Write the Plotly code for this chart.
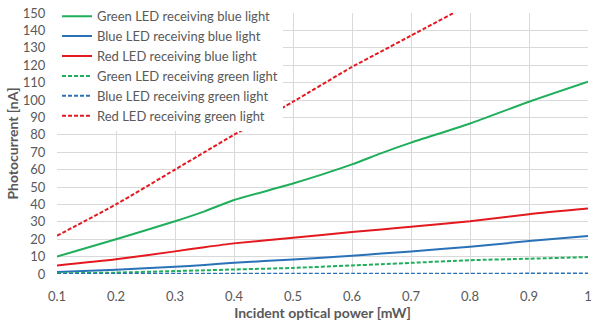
import plotly.graph_objects as go

power_mw = [0.1, 0.2, 0.3, 0.35, 0.4, 0.5, 0.6, 0.65, 0.7, 0.8, 0.9, 1.0]

green_blue = [10, 20, 30.3, 36, 42.5, 52, 63, 69.5, 75.5, 86.5, 99, 110.5]
blue_blue = [1.2, 2.5, 4.1, 5.2, 6.4, 8.4, 10.5, 11.8, 13, 15.7, 18.9, 21.9]
red_blue = [4.9, 8.5, 13, 15.4, 17.6, 20.8, 24.1, 25.6, 27.1, 30.3, 34.4, 37.6]
green_green = [0.4, 0.8, 1.7, 2.1, 2.6, 3.5, 4.9, 5.6, 6.4, 7.9, 8.8, 9.7]
blue_green = [0.05, 0.07, 0.1, 0.11, 0.12, 0.14, 0.16, 0.17, 0.18, 0.2, 0.22, 0.24]
red_green = [22, 40, 60, 70, 80, 99, 119, 128, 137, 155, 173, 191]

series_names = [
    "Green LED receiving blue light",
    "Blue LED receiving blue light",
    "Red LED receiving blue light",
    "Green LED receiving green light",
    "Blue LED receiving green light",
    "Red LED receiving green light",
]
series_values = [green_blue, blue_blue, red_blue, green_green, blue_green, red_green]
series_colors = ["#1fae5b", "#2a72b8", "#e3191f", "#1fae5b", "#2a72b8", "#e3191f"]
series_dash = ["solid", "solid", "solid", "4px,2px", "4px,2px", "4px,2px"]

x_ticks = [0.1, 0.2, 0.3, 0.4, 0.5, 0.6, 0.7, 0.8, 0.9, 1.0]
x_ticklabels = ["0.1", "0.2", "0.3", "0.4", "0.5", "0.6", "0.7", "0.8", "0.9", "1"]
y_ticks = list(range(0, 151, 10))

fig = go.Figure()
for name, vals, col, dash in zip(series_names, series_values, series_colors, series_dash):
    fig.add_trace(go.Scatter(
        x=power_mw, y=vals, name=name, mode="lines",
        line=dict(color=col, width=2, dash=dash, shape="spline", smoothing=0.6),
    ))

font_family = "Lato, 'Open Sans', sans-serif"
fig.update_layout(
    width=593, height=331,
    margin=dict(l=57, r=1, t=7, b=57),
    paper_bgcolor="white", plot_bgcolor="white",
    font=dict(family=font_family, size=13, color="#595959"),
    showlegend=True,
    legend=dict(
        x=0.0, y=1.045, xanchor="left", yanchor="top",
        bgcolor="white", borderwidth=0,
        font=dict(size=13, color="#595959"),
        itemwidth=30, tracegroupgap=0,
    ),
    xaxis=dict(
        range=[0.1, 1.0], tickvals=x_ticks, ticktext=x_ticklabels,
        showgrid=True, gridcolor="#d9d9d9", gridwidth=1,
        zeroline=False, showline=False,
        ticks="outside", ticklen=10, tickcolor="rgba(0,0,0,0)",
        ticklabeloverflow="allow",
        tickfont=dict(size=13, color="#595959"),
        title=dict(text="<b>Incident optical power [mW]</b>", font=dict(size=14, color="#595959"), standoff=3),
    ),
    yaxis=dict(
        range=[0, 150], tickvals=y_ticks,
        showgrid=True, gridcolor="#d9d9d9", gridwidth=1,
        zeroline=False, showline=False,
        ticks="outside", ticklen=8, tickcolor="rgba(0,0,0,0)",
        ticklabeloverflow="allow",
        tickfont=dict(size=13, color="#595959"),
        title=dict(text="<b>Photocurrent [nA]</b>", font=dict(size=14, color="#595959"), standoff=0),
    ),
)

fig.write_html("out.html")
